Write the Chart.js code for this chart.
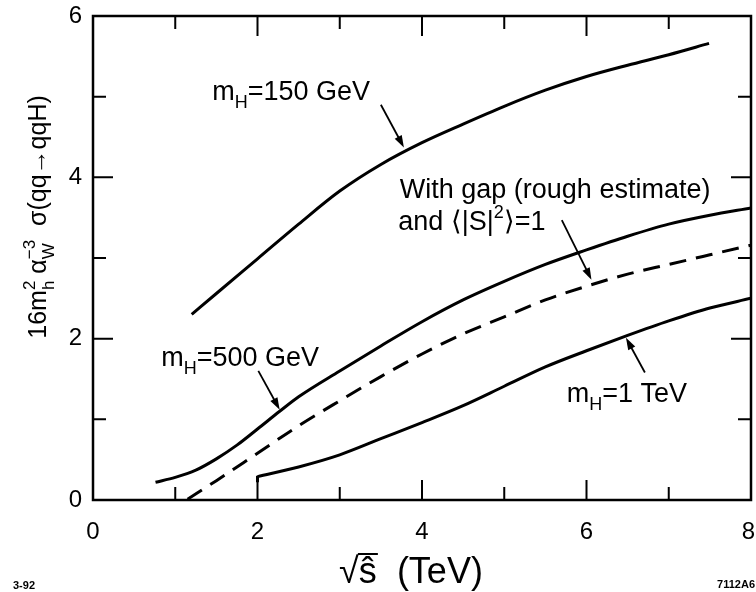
<!DOCTYPE html>
<html>
<head>
<meta charset="utf-8">
<script src="https://cdn.jsdelivr.net/npm/chart.js@4.4.1/dist/chart.umd.min.js"></script>
<style>
  html, body { margin: 0; padding: 0; background: #fff; }
  #wrap { width: 756px; height: 592px; }
</style>
</head>
<body>
<div id="wrap"><canvas id="xsec" width="756" height="592"></canvas></div>
<script>
// axis ticks
const xTicks = [0, 2, 4, 6, 8];
const yTicks = [0, 2, 4, 6];

// curves (sqrt(s) in TeV, scaled cross section)
const x150 = [1.2, 1.5, 2, 2.5, 3, 3.5, 4, 4.5, 5, 5.5, 6, 6.5, 7, 7.49];
const y150 = [2.30, 2.56, 2.99, 3.42, 3.83, 4.16, 4.43, 4.66, 4.88, 5.08, 5.25, 5.39, 5.52, 5.66];

const x500 = [0.76, 1, 1.25, 1.5, 1.75, 2, 2.27, 2.5, 3, 3.5, 4, 4.5, 5, 5.5, 6, 6.5, 7, 7.5, 8];
const y500 = [0.22, 0.28, 0.37, 0.51, 0.68, 0.88, 1.10, 1.28, 1.60, 1.91, 2.21, 2.48, 2.71, 2.92, 3.10, 3.27, 3.42, 3.53, 3.62];

const xGap = [1.15, 1.5, 2, 2.5, 3, 3.5, 4, 4.5, 5, 5.5, 6, 6.5, 7, 7.5, 8];
const yGap = [0.01, 0.24, 0.58, 0.92, 1.23, 1.53, 1.81, 2.06, 2.27, 2.48, 2.65, 2.80, 2.92, 3.04, 3.16];

const x1TeV = [2, 2.5, 3, 3.5, 4, 4.5, 5, 5.5, 6, 6.5, 7, 7.5, 8];
const y1TeV = [0.29, 0.41, 0.56, 0.76, 0.96, 1.17, 1.41, 1.65, 1.85, 2.04, 2.22, 2.38, 2.50];
// short vertical hook where the 1 TeV curve starts
const xHook = [2, 2];
const yHook = [0.22, 0.30];

// curve labels: text parts, left/baseline position in data units
const labelParts = [
    ['m', {sub: 'H'}, '=150 GeV'],
    ['With gap (rough estimate)'],
    ['and \u27E8|S|', {sup: '2'}, '\u27E9=1'],
    ['m', {sub: 'H'}, '=500 GeV'],
    ['m', {sub: 'H'}, '=1 TeV']
];
const labelX = [1.45, 3.73, 3.71, 0.83, 5.76];
const labelY = [4.96, 3.74, 3.35, 1.66, 1.22];

// arrows from label to curve: [x0, y0, x1, y1]
const arrows = [
    [3.50, 4.90, 3.78, 4.37],
    [5.70, 3.47, 6.06, 2.73],
    [2.01, 1.60, 2.27, 1.12],
    [6.71, 1.58, 6.48, 2.01]
];

const FONT = '"Liberation Sans", Arial, sans-serif';

function toPoints(xs, ys) {
    return xs.map((x, i) => ({x: x, y: ys[i]}));
}

// draws text with sub/superscripts, returns width
function drawRich(ctx, x, y, parts, size, dry) {
    let cx = x;
    const small = Math.round(size * 0.68);
    parts.forEach(p => {
        if (typeof p === 'string') {
            ctx.font = size + 'px ' + FONT;
            if (!dry) ctx.fillText(p, cx, y);
            cx += ctx.measureText(p).width;
        } else {
            ctx.font = small + 'px ' + FONT;
            let w = 0;
            if (p.sub) {
                if (!dry) ctx.fillText(p.sub, cx, y + size * 0.3);
                w = ctx.measureText(p.sub).width;
            }
            if (p.sup) {
                if (!dry) ctx.fillText(p.sup, cx, y - size * 0.45);
                w = Math.max(w, ctx.measureText(p.sup).width);
            }
            cx += w;
        }
    });
    return cx - x;
}

function arrowLine(ctx, x0, y0, x1, y1) {
    const a = Math.atan2(y1 - y0, x1 - x0);
    const len = 12, half = 4;
    ctx.beginPath();
    ctx.moveTo(x0, y0);
    ctx.lineTo(x1 - Math.cos(a) * len * 0.8, y1 - Math.sin(a) * len * 0.8);
    ctx.stroke();
    ctx.beginPath();
    ctx.moveTo(x1, y1);
    ctx.lineTo(x1 - Math.cos(a) * len - Math.sin(a) * half, y1 - Math.sin(a) * len + Math.cos(a) * half);
    ctx.lineTo(x1 - Math.cos(a) * len + Math.sin(a) * half, y1 - Math.sin(a) * len - Math.cos(a) * half);
    ctx.closePath();
    ctx.fill();
}

// frame with inward ticks on all four sides
const framePlugin = {
    id: 'frame',
    afterDatasetsDraw(chart) {
        const {ctx, chartArea: a, scales: {x, y}} = chart;
        ctx.save();
        ctx.strokeStyle = '#000';
        ctx.lineWidth = 2;
        for (let v = 1; v < 8; v++) {
            const px = x.getPixelForValue(v);
            const len = v % 2 === 0 ? 20 : 13;
            ctx.beginPath();
            ctx.moveTo(px, a.bottom); ctx.lineTo(px, a.bottom - len);
            ctx.moveTo(px, a.top); ctx.lineTo(px, a.top + len);
            ctx.stroke();
        }
        for (let v = 1; v < 6; v++) {
            const py = y.getPixelForValue(v);
            const len = v % 2 === 0 ? 20 : 13;
            ctx.beginPath();
            ctx.moveTo(a.left, py); ctx.lineTo(a.left + len, py);
            ctx.moveTo(a.right, py); ctx.lineTo(a.right - len, py);
            ctx.stroke();
        }
        ctx.lineWidth = 2.5;
        ctx.strokeRect(a.left, a.top, a.right - a.left, a.bottom - a.top);
        ctx.restore();
    },
    afterDraw(chart) {
        const {ctx, chartArea: area, scales: {x, y}} = chart;
        ctx.save();
        ctx.fillStyle = '#000';
        ctx.strokeStyle = '#000';
        ctx.textBaseline = 'alphabetic';

        // x tick labels (kept inside the canvas at the right end)
        ctx.font = '24px ' + FONT;
        ctx.textAlign = 'center';
        xTicks.forEach(v => {
            const lbl = String(v);
            const half = ctx.measureText(lbl).width / 2;
            const px = Math.min(x.getPixelForValue(v), chart.width - half - 1);
            ctx.fillText(lbl, px, area.bottom + 39);
        });

        ctx.textAlign = 'left';
        // curve labels
        labelParts.forEach((parts, i) => {
            drawRich(ctx, x.getPixelForValue(labelX[i]), y.getPixelForValue(labelY[i]), parts, 27);
        });
        ctx.lineWidth = 1.8;
        arrows.forEach(r => {
            arrowLine(ctx, x.getPixelForValue(r[0]), y.getPixelForValue(r[1]),
                x.getPixelForValue(r[2]), y.getPixelForValue(r[3]));
        });

        // y axis title (rotated)
        const yTitle = ['16m', {sub: 'h', sup: '2'}, ' \u03B1', {sub: 'W', sup: '\u22123'}, '  \u03C3(qq\u2192qqH)'];
        ctx.save();
        ctx.translate(46, 217);
        ctx.rotate(-Math.PI / 2);
        const w = drawRich(ctx, 0, 0, yTitle, 25, true);
        drawRich(ctx, -w / 2, 0, yTitle, 25);
        ctx.restore();

        // x axis title with root sign
        ctx.font = '36px ' + FONT;
        const root = '\u221A', shat = '\u015D', rest = '  (TeV)';
        const wr = ctx.measureText(root).width, ws = ctx.measureText(shat).width;
        const total = wr + ws + ctx.measureText(rest).width;
        const x0 = 411 - total / 2, base = 583;
        ctx.fillText(root, x0, base);
        ctx.fillText(shat, x0 + wr, base);
        ctx.fillText(rest, x0 + wr + ws, base);
        ctx.lineWidth = 2;
        ctx.beginPath();
        ctx.moveTo(x0 + wr - 1, base - 29);
        ctx.lineTo(x0 + wr + ws + 1, base - 29);
        ctx.stroke();

        // figure codes
        ctx.font = 'bold 11px ' + FONT;
        ctx.fillText('3-92', 13, 589);
        ctx.textAlign = 'right';
        ctx.fillText('7112A6', 755, 588);
        ctx.restore();
    }
};

const lineStyle = {
    showLine: true,
    borderColor: '#000',
    borderWidth: 3,
    pointRadius: 0,
    cubicInterpolationMode: 'monotone',
    fill: false
};

new Chart(document.getElementById('xsec').getContext('2d'), {
    type: 'scatter',
    data: {
        datasets: [
            Object.assign({label: 'mH=150 GeV', data: toPoints(x150, y150)}, lineStyle),
            Object.assign({label: 'mH=500 GeV', data: toPoints(x500, y500)}, lineStyle),
            Object.assign({label: 'With gap', data: toPoints(xGap, yGap), borderDash: [17, 10]}, lineStyle),
            Object.assign({label: 'mH=1 TeV', data: toPoints(x1TeV, y1TeV)}, lineStyle),
            Object.assign({label: 'hook', data: toPoints(xHook, yHook)}, lineStyle, {cubicInterpolationMode: 'default', tension: 0})
        ]
    },
    options: {
        responsive: false,
        animation: false,
        devicePixelRatio: 1,
        layout: { padding: { top: 16, right: 5, left: 0, bottom: 0 } },
        plugins: {
            legend: { display: false },
            tooltip: { enabled: false }
        },
        scales: {
            x: {
                type: 'linear',
                min: 0,
                max: 8,
                afterBuildTicks: s => { s.ticks = xTicks.map(v => ({value: v})); },
                afterFit: s => {
                    s.height = 92;
                    s.paddingLeft = 0; s.paddingRight = 0;
                },
                grid: { display: false, drawTicks: false },
                border: { display: false },
                ticks: { display: false }
            },
            y: {
                type: 'linear',
                min: 0,
                max: 6,
                afterBuildTicks: s => { s.ticks = yTicks.map(v => ({value: v})); },
                afterFit: s => {
                    s.width = 93;
                    s.paddingTop = 0; s.paddingBottom = 0;
                },
                grid: { display: false, drawTicks: false },
                border: { display: false },
                ticks: { color: '#000', padding: 11, font: { family: FONT, size: 24 } }
            }
        }
    },
    plugins: [framePlugin]
});
</script>
</body>
</html>
